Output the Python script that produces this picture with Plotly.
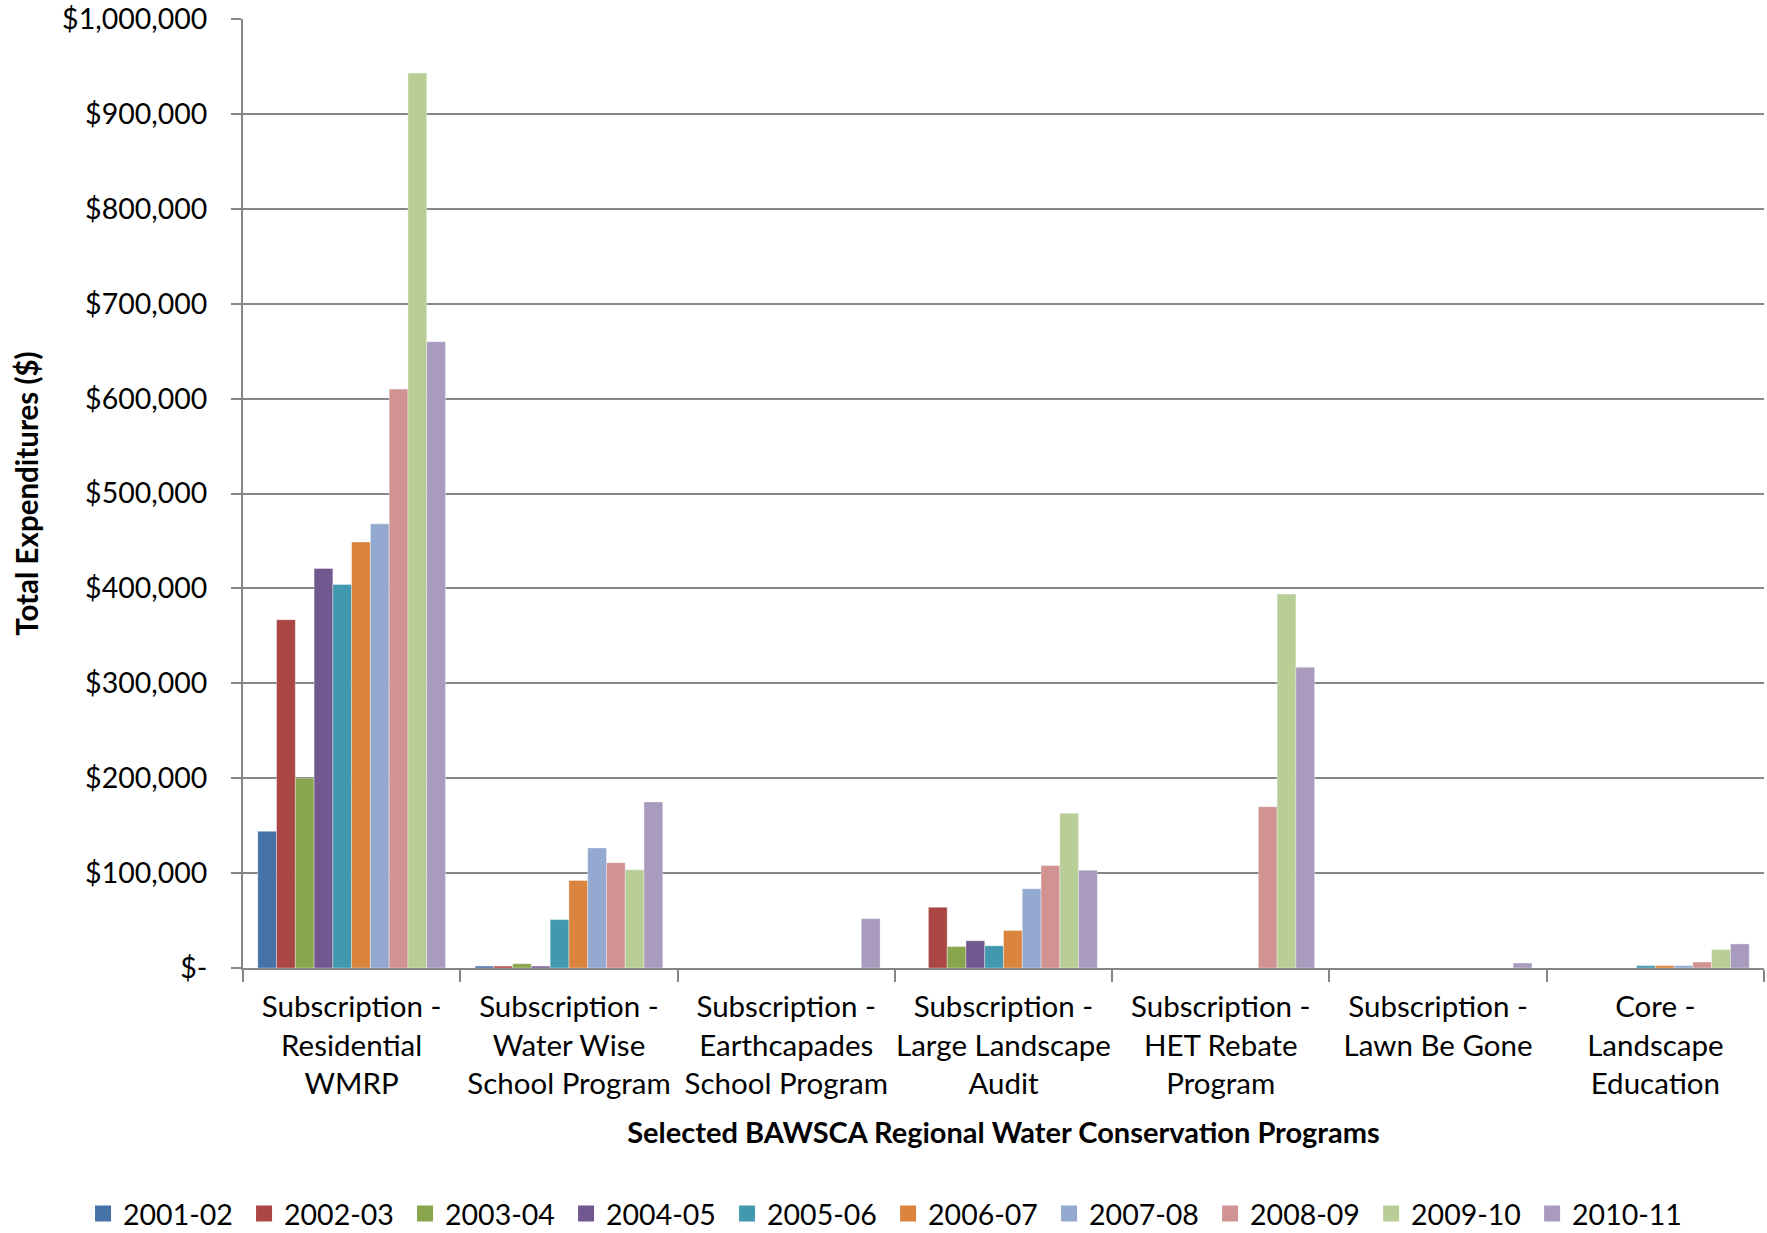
import plotly.graph_objects as go

# Program categories (x axis) and their display labels
programs = [
    "Subscription - Residential WMRP",
    "Subscription - Water Wise School Program",
    "Subscription - Earthcapades School Program",
    "Subscription - Large Landscape Audit",
    "Subscription - HET Rebate Program",
    "Subscription - Lawn Be Gone",
    "Core - Landscape Education",
]
program_labels = [
    "Subscription -<br>Residential<br>WMRP",
    "Subscription -<br>Water Wise<br>School Program",
    "Subscription -<br>Earthcapades<br>School Program",
    "Subscription -<br>Large Landscape<br>Audit",
    "Subscription -<br>HET Rebate<br>Program",
    "Subscription -<br>Lawn Be Gone",
    "Core -<br>Landscape<br>Education",
]

# Fiscal years (series)
years = ["2001-02", "2002-03", "2003-04", "2004-05", "2005-06",
         "2006-07", "2007-08", "2008-09", "2009-10", "2010-11"]

# Expenditures per fiscal year, one value per program (same order as programs)
fy2001_02 = [144000, 2000, 0, 0, 0, 0, 0]
fy2002_03 = [367000, 2000, 0, 64000, 0, 0, 0]
fy2003_04 = [200000, 4500, 0, 22600, 0, 0, 0]
fy2004_05 = [421000, 2000, 0, 28700, 0, 0, 0]
fy2005_06 = [404000, 51000, 0, 23400, 0, 0, 2500]
fy2006_07 = [449000, 92300, 0, 39500, 0, 0, 2500]
fy2007_08 = [468000, 126500, 0, 83500, 0, 0, 2500]
fy2008_09 = [610000, 111000, 0, 108000, 170000, 0, 6300]
fy2009_10 = [943000, 103600, 0, 163000, 394000, 0, 19400]
fy2010_11 = [660000, 175000, 52000, 103000, 317000, 5300, 25400]

series_values = [fy2001_02, fy2002_03, fy2003_04, fy2004_05, fy2005_06,
                 fy2006_07, fy2007_08, fy2008_09, fy2009_10, fy2010_11]

colors = ["#4572A7", "#AA4643", "#89A54E", "#71588F", "#4198AF",
          "#DB843D", "#93A9CF", "#D19392", "#B9CD96", "#A99BBD"]

# Y axis ticks
y_tickvals = [0, 100000, 200000, 300000, 400000, 500000,
              600000, 700000, 800000, 900000, 1000000]
y_ticktext = ["$-", "$100,000", "$200,000", "$300,000", "$400,000", "$500,000",
              "$600,000", "$700,000", "$800,000", "$900,000", "$1,000,000"]

FONT = "Lato, 'Open Sans', sans-serif"
GRID = "#868686"

fig = go.Figure()
for i, (name, vals, col) in enumerate(zip(years, series_values, colors)):
    # the bars themselves
    fig.add_trace(go.Bar(
        name=name,
        x=programs,
        y=vals,
        legendgroup=name,
        showlegend=False,
        marker=dict(color=col, line=dict(color="rgba(255,255,255,0.35)", width=1)),
    ))
    # larger square swatch for the legend entry; the row is split over two
    # legend boxes so that all ten entries stay on one line
    fig.add_trace(go.Scatter(
        name=name,
        x=[programs[0]],
        y=[None],
        mode="markers",
        legendgroup=name,
        legend="legend" if i < 5 else "legend2",
        showlegend=True,
        marker=dict(symbol="square", size=18, color=col),
        hoverinfo="skip",
    ))

legend_style = dict(
    orientation="h",
    xref="container",
    yref="container",
    xanchor="left",
    y=0.0155,
    yanchor="middle",
    font=dict(family=FONT, size=28.5),
    itemwidth=30,
    entrywidth=116,
    tracegroupgap=0,
    bgcolor="rgba(0,0,0,0)",
)

fig.update_layout(
    width=1767,
    height=1233,
    paper_bgcolor="white",
    plot_bgcolor="white",
    barmode="group",
    bargap=0.136,
    bargroupgap=0,
    font=dict(family=FONT, size=28, color="black"),
    margin=dict(l=243, r=3, t=19, b=265),
    showlegend=True,
    legend=dict(x=0.047, **legend_style),
    legend2=dict(x=0.5026, **legend_style),
    xaxis=dict(
        type="category",
        categoryorder="array",
        categoryarray=programs,
        tickmode="array",
        tickvals=programs,
        ticktext=program_labels,
        tickangle=0,
        tickson="boundaries",
        ticks="outside",
        ticklen=12,
        tickwidth=2,
        tickcolor=GRID,
        ticklabelstandoff=12,
        showline=True,
        linecolor=GRID,
        linewidth=2,
        showgrid=False,
        tickfont=dict(family=FONT, size=29.5),
        title=dict(
            text="<b>Selected BAWSCA Regional Water Conservation Programs</b>",
            font=dict(family=FONT, size=29),
            standoff=24,
        ),
        automargin=False,
    ),
    yaxis=dict(
        range=[0, 1000000],
        tickmode="array",
        tickvals=y_tickvals,
        ticktext=y_ticktext,
        ticks="outside",
        ticklen=10,
        tickwidth=2,
        tickcolor=GRID,
        ticklabelstandoff=18,
        showline=True,
        linecolor=GRID,
        linewidth=2,
        showgrid=True,
        gridcolor=GRID,
        gridwidth=2,
        zeroline=False,
        tickfont=dict(family=FONT, size=28.5),
        title=dict(
            text="<b>Total Expenditures ($)</b>",
            font=dict(family=FONT, size=29.5),
            standoff=15,
        ),
        automargin=False,
    ),
)

fig.write_html("out.html")
